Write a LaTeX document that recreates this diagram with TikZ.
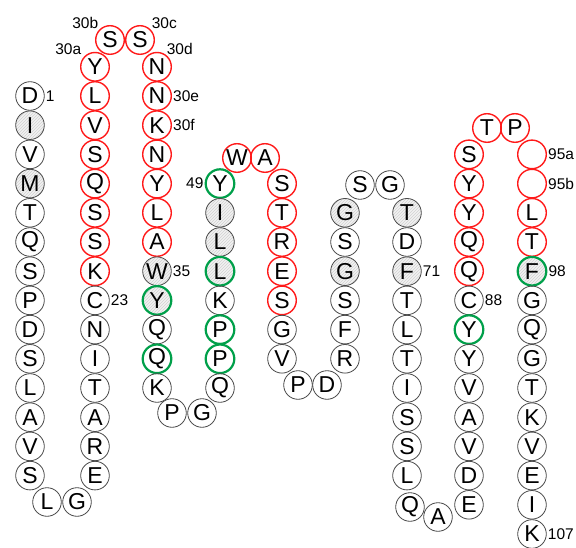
\documentclass[tikz,border=0pt]{standalone}
\usepackage{fontspec}
\setmainfont{Liberation Sans}
\usepackage{xcolor}
\usepackage{tikz}
\usetikzlibrary{patterns}
\definecolor{ringGray}{HTML}{4A4A4A}
\definecolor{ringRed}{HTML}{FF1A1A}
\definecolor{ringGreen}{HTML}{00A04A}
\definecolor{hatchGray}{HTML}{F2F2F2}
\newcommand{\resfont}{\fontsize{23}{23}\selectfont}
\newcommand{\numfont}{\fontsize{15.5}{15.5}\selectfont}
\tikzset{
  res/.style={circle,draw=ringGray,line width=0.8pt,minimum size=28.6pt,inner sep=0pt,font=\resfont},
  resRed/.style={res,draw=ringRed,line width=1.4pt},
  resGreen/.style={res,draw=ringGreen,line width=2.2pt},
  resHatch/.style={res,preaction={fill=hatchGray},pattern=north east lines,pattern color=gray!35},
  resGreenHatch/.style={resGreen,preaction={fill=hatchGray},pattern=north east lines,pattern color=gray!35},
  num/.style={font=\numfont,inner sep=1pt},
}

\begin{document}
\begin{tikzpicture}[x=1pt,y=-1pt]
  \useasboundingbox (0,0) rectangle (576,548);
  % columns of residues, row k sits at y = 37.6 + 29.2 k
  \foreach \aa/\st [count=\k from 2] in {D/res,I/resHatch,V/res,M/resHatch,T/res,Q/res,S/res,P/res,D/res,S/res,L/res,A/res,V/res,S/res}
    \node[\st] (a\k) at (30,{37.6+29.2*\k}) {\aa};
  \node[res] (aL) at (47,502) {L};
  \node[res] (aG) at (77,502) {G};
  \foreach \aa/\st [count=\k from 1] in {Y/resRed,L/resRed,V/resRed,S/resRed,Q/resRed,S/resRed,S/resRed,K/resRed,C/res,N/res,I/res,T/res,A/res,R/res,E/res}
    \node[\st] (b\k) at (95,{37.6+29.2*\k}) {\aa};
  \node[resRed] (bS) at (110,40) {S};
  \node[resRed] (cS) at (140,40) {S};
  \foreach \aa/\st [count=\k from 1] in {N/resRed,N/resRed,K/resRed,N/resRed,Y/resRed,L/resRed,A/resRed,W/resHatch,Y/resGreenHatch,Q/res,Q/resGreen,K/res}
    \node[\st] (c\k) at (157,{37.6+29.2*\k}) {\aa};
  \node[res] (cP) at (172,413) {P};
  \node[res] (cG) at (202,413) {G};
  \foreach \aa/\st [count=\k from 5] in {Y/resGreen,I/resHatch,L/resHatch,L/resGreenHatch,K/res,P/resGreen,P/resGreen,Q/res}
    \node[\st] (d\k) at (220,{37.6+29.2*\k}) {\aa};
  \node[resRed] (dW) at (237,158) {W};
  \node[resRed] (dA) at (265,158) {A};
  \foreach \aa/\st [count=\k from 5] in {S/resRed,T/resRed,R/resRed,E/resRed,S/resRed,G/res,V/res}
    \node[\st] (e\k) at (282,{37.6+29.2*\k}) {\aa};
  \node[res] (eP) at (298,385) {P};
  \node[res] (eD) at (327,385) {D};
  \foreach \aa/\st [count=\k from 6] in {G/resHatch,S/res,G/resHatch,S/res,F/res,R/res}
    \node[\st] (f\k) at (345,{37.6+29.2*\k}) {\aa};
  \node[res] (fS) at (360,185) {S};
  \node[res] (fG) at (390,185) {G};
  \foreach \aa/\st [count=\k from 6] in {T/resHatch,D/res,F/resHatch,T/res,L/res,T/res,I/res,S/res,S/res,L/res}
    \node[\st] (g\k) at (407,{37.6+29.2*\k}) {\aa};
  \node[res] (gQ) at (410,507) {Q};
  \node[res] (gA) at (438,517) {A};
  \foreach \aa/\st [count=\k from 4] in {S/resRed,Y/resRed,Y/resRed,Q/resRed,Q/resRed,C/res,Y/resGreen,Y/res,V/res,A/res,V/res,D/res,E/res}
    \node[\st] (h\k) at (469,{37.6+29.2*\k}) {\aa};
  \node[resRed] (hT) at (487,128) {T};
  \node[resRed] (hP) at (515,128) {P};
  \foreach \aa/\st [count=\k from 4] in {{}/resRed,{}/resRed,L/resRed,T/resRed,F/resGreenHatch,G/res,Q/res,G/res,T/res,K/res,V/res,E/res,I/res,K/res}
    \node[\st] (i\k) at (532,{37.6+29.2*\k}) {\aa};
  % numbering
  \node[num,anchor=west] at (a2.east) {1};
  \node[num,anchor=south east] at ([xshift=-2pt]b1.north west) {30a};
  \node[num,anchor=south east] at (bS.north west) {30b};
  \node[num,anchor=south west] at (cS.north east) {30c};
  \node[num,anchor=south west] at ([xshift=-2pt]c1.north east) {30d};
  \node[num,anchor=west] at (c2.east) {30e};
  \node[num,anchor=west] at (c3.east) {30f};
  \node[num,anchor=west] at (b9.east) {23};
  \node[num,anchor=west] at (c8.east) {35};
  \node[num,anchor=east] at (d5.west) {49};
  \node[num,anchor=west] at (g8.east) {71};
  \node[num,anchor=west] at (h9.east) {88};
  \node[num,anchor=west] at (i4.east) {95a};
  \node[num,anchor=west] at (i5.east) {95b};
  \node[num,anchor=west] at (i8.east) {98};
  \node[num,anchor=west] at (i17.east) {107};
\end{tikzpicture}
\end{document}
